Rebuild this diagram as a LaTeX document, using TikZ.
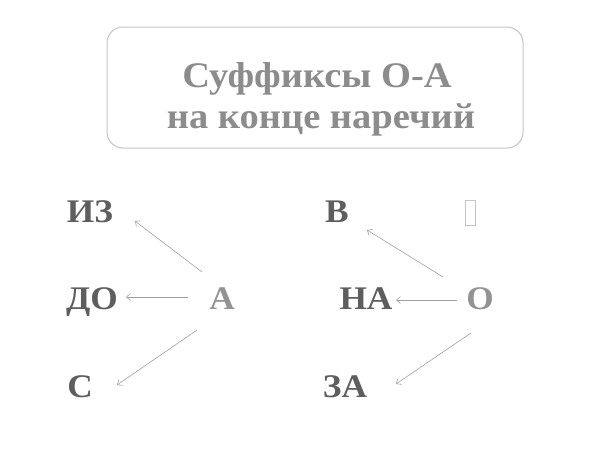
\documentclass[tikz,border=0pt]{standalone}
\usepackage{fontspec}
\setmainfont{Liberation Serif}
\newfontfamily\widefont[FakeStretch=1.07]{Liberation Serif}
\usetikzlibrary{arrows.meta}
\definecolor{titlegray}{HTML}{8C8C8C}
\definecolor{wordgray}{HTML}{5E5E5E}
\definecolor{sufgray}{HTML}{939393}
\definecolor{linegray}{HTML}{A0A0A0}
\definecolor{boxgray}{HTML}{C4C4C4}
\tikzset{
  word/.style={text=wordgray, font=\widefont\fontsize{33}{33}\selectfont\bfseries, inner sep=0pt, anchor=base},
  suf/.style={text=sufgray, font=\widefont\fontsize{33}{33}\selectfont\bfseries, inner sep=0pt, anchor=base},
  ttl/.style={text=titlegray, font=\widefont\fontsize{36}{36}\selectfont\bfseries, inner sep=0pt, anchor=base},
  arr/.style={draw=linegray, line width=0.6pt, -{Straight Barb[length=4pt,width=7pt]}},
  titlebox/.style={draw=boxgray, line width=1pt, rounded corners=16pt, fill=white},
  blank/.style={draw=boxgray, line width=0.8pt, minimum width=10pt, minimum height=25pt, inner sep=0pt}
}
\begin{document}
\begin{tikzpicture}[x=1pt,y=-1pt]
\useasboundingbox (0,0) rectangle (600,450);
\fill[white] (0,0) rectangle (600,450);
\node[titlebox, minimum width=416pt, minimum height=121pt] (box) at (315,87.5) {};
\node[ttl] (t1) at (317,87) {Суффиксы О-А};
\node[ttl] (t2) at (321,128) {на конце наречий};
% left group
\node[word] (iz) at (90,222) {ИЗ};
\node[word] (do) at (92,309) {ДО};
\node[word] (s)  at (80,397) {С};
\node[suf]  (a)  at (222,309) {А};
% right group
\node[word] (v)  at (337,222) {В};
\node[word] (na) at (366,309) {НА};
\node[word] (za) at (345,397) {ЗА};
\node[suf]  (o)  at (480,309) {О};
\node[blank] (bl) at (470.5,213) {};
% arrow ends
\coordinate (a1) at (202,272); \coordinate (e1) at (135,221);
\coordinate (a2) at (188,297); \coordinate (e2) at (126,297);
\coordinate (a3) at (197,330); \coordinate (e3) at (117,385);
\coordinate (o1) at (443,277); \coordinate (f1) at (367,230);
\coordinate (o2) at (457,300); \coordinate (f2) at (396,300);
\coordinate (o3) at (471,333); \coordinate (f3) at (396,384);
\draw[arr] (a1) -- (e1);
\draw[arr] (a2) -- (e2);
\draw[arr] (a3) -- (e3);
\draw[arr] (o1) -- (f1);
\draw[arr] (o2) -- (f2);
\draw[arr] (o3) -- (f3);
\end{tikzpicture}
\end{document}
